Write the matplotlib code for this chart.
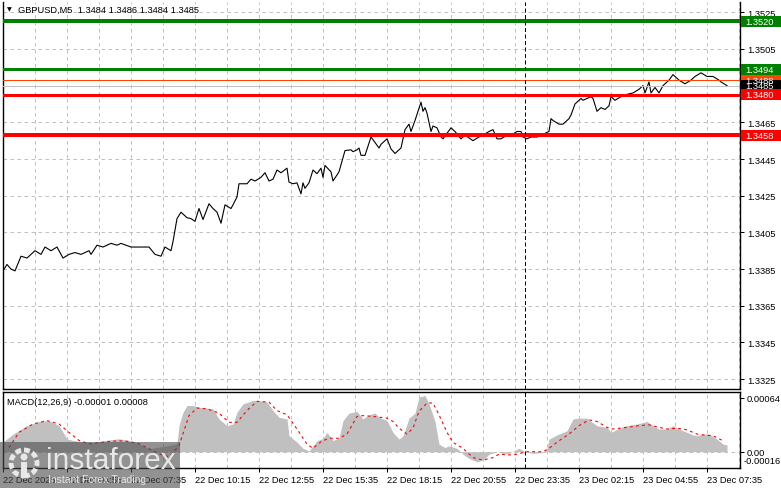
import matplotlib
matplotlib.use('Agg')
import matplotlib.pyplot as plt
from matplotlib.patches import Rectangle, Circle
from matplotlib import transforms

plt.rcParams['font.family'] = ['Liberation Sans', 'DejaVu Sans']

#### data ####
# M5 bar number (0 = first bar on screen) and close
price_bar = [0, 2, 4, 6, 9, 12, 14, 16, 19, 21, 24, 27, 30, 33, 36, 39, 43, 44, 47, 50,
             54, 57, 59, 64, 69, 73, 76, 79, 81, 84, 85, 87, 89, 92, 94, 96, 98, 100, 103, 105,
             107, 109, 111, 114, 115, 117, 118, 122, 124, 126, 129, 131, 133, 135, 137, 139, 142, 143, 145, 147,
             149, 150, 151, 153, 155, 157, 159, 160, 161, 164, 165, 168, 171, 174, 175, 177, 178, 179, 181, 184,
             186, 188, 189, 192, 194, 196, 199, 201, 203, 204, 206, 209, 210, 211, 212, 214, 215, 217, 219, 220,
             224, 226, 229, 231, 235, 238, 240, 243, 245, 247, 249, 252, 254, 257, 259, 260, 262, 264, 267, 271,
             273, 274, 275, 278, 280, 283, 284, 286, 289, 290, 294, 295, 297, 299, 301, 303, 304, 306, 309, 311,
             315, 318, 320, 321, 323, 324, 326, 328, 330, 333, 335, 338, 341, 344, 346, 349, 352, 355, 358, 359,
             362]
price_close = [1.3384, 1.33875, 1.3385, 1.3384, 1.3392, 1.3391, 1.3393, 1.3395, 1.3393, 1.3397,
               1.3395, 1.3397, 1.3391, 1.3393, 1.3394, 1.3393, 1.3395, 1.3393, 1.3398, 1.3397,
               1.3399, 1.3398, 1.3399, 1.3397, 1.3397, 1.3397, 1.3393, 1.3392, 1.3397, 1.3395,
               1.3400, 1.34125, 1.3416, 1.3413, 1.34125, 1.3411, 1.3418, 1.3412, 1.34206, 1.3418,
               1.3416, 1.3410, 1.3420, 1.3418, 1.3420, 1.34243, 1.34315, 1.34315, 1.3434, 1.3433,
               1.3435, 1.34375, 1.3433, 1.3434, 1.3439, 1.34375, 1.3440, 1.34324, 1.34315, 1.3432,
               1.3426, 1.3432, 1.3429, 1.3432, 1.3439, 1.3437, 1.3440, 1.3435, 1.34415, 1.3438,
               1.3433, 1.3438, 1.34496, 1.3450, 1.3449, 1.3450, 1.3451, 1.3447, 1.3447, 1.3457,
               1.3454, 1.3451, 1.3453, 1.3456, 1.34505, 1.3448, 1.3451, 1.3461, 1.3464, 1.3460,
               1.3466, 1.3476, 1.3471, 1.3473, 1.3470, 1.3460, 1.3463, 1.3462, 1.3457, 1.3456,
               1.3462, 1.3460, 1.3456, 1.3458, 1.3455, 1.3457, 1.3458, 1.3460, 1.3461, 1.3456,
               1.3456, 1.3458, 1.3458, 1.3460, 1.3460, 1.3457, 1.3456, 1.3457, 1.3457, 1.3459,
               1.3460, 1.3467, 1.3466, 1.3464, 1.3464, 1.3467, 1.3469, 1.3475, 1.3478, 1.3477,
               1.3479, 1.3478, 1.3471, 1.3473, 1.3472, 1.3474, 1.3479, 1.3477, 1.3479, 1.3480,
               1.3481, 1.3483, 1.3485, 1.3481, 1.3487, 1.3481, 1.3484, 1.3481, 1.3485, 1.3488,
               1.3491, 1.3488, 1.3486, 1.3488, 1.3490, 1.3492, 1.3490, 1.3490, 1.3488, 1.3487,
               1.3485]

macd_bar = [0, 5, 12, 18, 23, 28, 32, 35, 40, 45, 48, 53, 58, 63, 68, 73, 78, 83, 87, 88,
            90, 92, 95, 98, 102, 105, 108, 112, 115, 117, 120, 125, 128, 132, 135, 138, 142, 143, 147, 150,
            153, 157, 160, 162, 165, 168, 170, 173, 177, 180, 183, 186, 188, 192, 195, 198, 200, 203, 206, 208,
            211, 213, 216, 218, 221, 223, 227, 230, 233, 237, 240, 243, 247, 250, 253, 257, 258, 261, 265, 270,
            272, 273, 277, 282, 285, 288, 292, 294, 297, 302, 304, 308, 312, 317, 322, 325, 328, 332, 335, 338,
            342, 345, 347, 350, 353, 357, 360, 362]
macd_main = [0.000115, 0.00021, 0.00031, 0.00036, 0.00037, 0.00031, 0.000154, 0.000134, 0.000115, 0.000107,
             0.000122, 0.00014, 0.000154, 0.000134, 0.000095, 0.000036, 0.000055, 0.000075, 0.000095, 0.00031,
             0.00047, 0.00055, 0.00055, 0.00053, 0.00052, 0.00051, 0.00039, 0.00031, 0.00033, 0.00047,
             0.00057, 0.00061, 0.00061, 0.00059, 0.00049, 0.00041, 0.00039, 0.00019, 0.000115, 0.00004,
             0.00001, 0.00013, 0.00016, 0.00023, 0.000134, 0.00016, 0.00037, 0.00046, 0.00048, 0.00039,
             0.00044, 0.00046, 0.00041, 0.00037, 0.00023, 0.00015, 0.00019, 0.0004, 0.00046, 0.00065,
             0.00067, 0.00057, 0.00036, 0.00009, 0.00005, 0.00007, 0.00004, -0.00003, -0.00008, -0.00012,
             -0.0001, -0.00003, 0.0, -0.00002, -0.00002, 0.00003, 0.00004, 0.0, -0.00002, -0.00001,
             0.00004, 0.00015, 0.0002, 0.00025, 0.00039, 0.0004, 0.0004, 0.00036, 0.00031, 0.00029,
             0.00023, 0.00028, 0.00031, 0.00033, 0.00036, 0.00031, 0.00027, 0.00027, 0.00031, 0.00027,
             0.00023, 0.0002, 0.00019, 0.00021, 0.00021, 0.00015, 0.00009, 0.00008]

signal_bar = [3, 8, 15, 22, 28, 33, 38, 43, 48, 53, 58, 63, 68, 73, 78, 83, 88, 93, 97, 102,
              108, 113, 117, 122, 127, 133, 137, 142, 147, 152, 155, 159, 163, 168, 172, 177, 180, 185, 192, 195,
              198, 202, 205, 208, 212, 215, 218, 222, 225, 230, 235, 240, 245, 248, 255, 262, 270, 273, 278, 283,
              288, 293, 297, 302, 305, 312, 318, 323, 328, 332, 337, 342, 347, 350, 355, 360]
signal_val = [0.00005, 0.00023, 0.00033, 0.00037, 0.00033, 0.00023, 0.000134, 0.000095, 0.000107, 0.000122,
              0.00013, 0.000122, 0.000095, 0.000036, -0.000024, -0.00006, 0.00007, 0.00043, 0.00052, 0.00051,
              0.00046, 0.00035, 0.00035, 0.00049, 0.0006, 0.00059, 0.00049, 0.00044, 0.00027, 0.00009,
              0.00004, 0.00012, 0.00016, 0.00016, 0.00021, 0.00042, 0.00043, 0.00042, 0.0004, 0.00036,
              0.00028, 0.00021, 0.00028, 0.00048, 0.00058, 0.00058, 0.00044, 0.00023, 0.00011, 0.00004,
              -0.00007, -0.0001, -0.00007, -0.00003, -0.00004, 0.0, 0.0, 0.00004, 0.00013, 0.00021,
              0.00031, 0.00038, 0.00036, 0.00029, 0.00027, 0.00029, 0.00031, 0.00032, 0.00029, 0.00027,
              0.00028, 0.00026, 0.00021, 0.0002, 0.00019, 0.00013]

level_price = [1.3520, 1.3494, 1.3488, 1.3485, 1.3480, 1.3458]
level_text = ['1.3520', '1.3494', '1.3488', '1.3485', '1.3480', '1.3458']
level_line_color = ['#008000', '#008000', '#ff4500', '#c0c0c0', '#ff0000', '#ff0000']
level_box_color = ['#008000', '#008000', '#ff4500', '#000000', '#ff0000', '#ff0000']
level_px = [4, 3, 1, 1, 3, 4]

price_ticks = [1.3325, 1.3345, 1.3365, 1.3385, 1.3405, 1.3425, 1.3445, 1.3465, 1.3485, 1.3505, 1.3525]
time_bar = [0, 32, 64, 96, 128, 160, 192, 224, 256, 288, 320, 352]
time_text = ['22 Dec 2025', '22 Dec 04:55', '22 Dec 07:35', '22 Dec 10:15', '22 Dec 12:55',
             '22 Dec 15:35', '22 Dec 18:15', '22 Dec 20:55', '22 Dec 23:35', '23 Dec 02:15',
             '23 Dec 04:55', '23 Dec 07:35']
cursor_bar = 261

#### figure ####
W, H = 781, 489
fig = plt.figure(figsize=(W / 100, H / 100), dpi=100)

def box(x0, y0, x1, y1):
    # pixel box (top-left origin) -> figure fraction rect
    return [x0 / W, 1 - y1 / H, (x1 - x0) / W, (y1 - y0) / H]

ax = fig.add_axes(box(3, 3, 740, 390))
ax2 = fig.add_axes(box(3, 393, 740, 469))

xmin, xmax = 0, 368.5
ymin, ymax = 1.33196, 1.35306
px = 0.72  # one pixel in points

dash_grid = (0, (3.5, 3.5))

# main price panel
ax.plot(price_bar, price_close, color='black', lw=0.8, zorder=3)
for lev, c, w in zip(level_price, level_line_color, level_px):
    ax.axhline(lev, color=c, lw=w * px, zorder=4)
ax.set_xlim(xmin, xmax)
ax.set_ylim(ymin, ymax)
for t in price_ticks:
    ax.axhline(t, color='#c0c0c0', lw=px, ls=dash_grid, zorder=1)
for b in range(16, 369, 16):
    ax.axvline(b, color='#c0c0c0', lw=px, ls=dash_grid, zorder=1)
    ax2.axvline(b, color='#c0c0c0', lw=px, ls=dash_grid, zorder=1)
ax.axvline(cursor_bar, color='black', lw=px, ls=(0, (4, 2.5)), zorder=5)
ax.set_xticks([])
ax.yaxis.tick_right()
ax.set_yticks(price_ticks)
ax.set_yticklabels(['%.4f' % t for t in price_ticks])
ax.tick_params(axis='y', direction='out', length=3, pad=2, labelsize=6.7, width=px)

# coloured price boxes on the right scale
trans = transforms.blended_transform_factory(fig.transFigure, ax.transData)
hh = 11 * (ymax - ymin) / 387
for lev, txt, c in zip(level_price, level_text, level_box_color):
    ax.add_patch(Rectangle((741 / W, lev - hh / 2), 40 / W, hh, transform=trans,
                           facecolor=c, edgecolor='none', clip_on=False, zorder=6))
    ax.text(745 / W, lev, txt, transform=trans, color='white', fontsize=6.7,
            va='center', ha='left', clip_on=False, zorder=7)

fig.text(18 / W, 1 - 10 / H, 'GBPUSD,M5  1.3484 1.3486 1.3484 1.3485', fontsize=6.7, va='center')
fig.text(7 / W, 1 - 10 / H, '\u25bc', fontsize=4.5, va='center', family='DejaVu Sans')

# MACD panel
ax2.fill_between(macd_bar, 0, macd_main, color='#c0c0c0', lw=0, zorder=2)
ax2.plot(signal_bar, signal_val, color='#ff0000', lw=0.8, ls=(0, (2.5, 3)), zorder=3)
ax2.axhline(0, color='#c0c0c0', lw=px, ls=dash_grid, zorder=1)
ax2.axvline(cursor_bar, color='black', lw=px, ls=(0, (4, 2.5)), zorder=5)
ax2.set_xlim(xmin, xmax)
ax2.set_ylim(-0.000194, 0.000711)
ax2.yaxis.tick_right()
ax2.set_yticks([0.00064, 0.0])
ax2.set_yticklabels(['0.00064', '0.00'])
ax2.tick_params(axis='y', direction='out', length=3, pad=2, labelsize=6.7, width=px)
fig.text(744 / W, 1 - 462 / H, '-0.00016', fontsize=6.7, va='center')
ax2.set_xticks(time_bar)
ax2.set_xticklabels(time_text)
for lbl in ax2.get_xticklabels():
    lbl.set_ha('left')
ax2.tick_params(axis='x', direction='out', length=3, pad=2, labelsize=6.7, width=px)
ax2.text(4 / 737, 0.87, 'MACD(12,26,9) -0.00001 0.00008', transform=ax2.transAxes,
         fontsize=6.7, va='center')

for a in (ax, ax2):
    for s in a.spines.values():
        s.set_linewidth(1.0)
        s.set_color('black')
ax.spines['top'].set_visible(False)

# instaforex watermark
fig.add_artist(Rectangle((0, 0), 180 / W, 46 / H, transform=fig.transFigure,
                         facecolor='#4a4a4a', edgecolor='none', alpha=0.6, zorder=10))
fig.add_artist(Circle((24 / 100, (H - 464) / 100), 0.13, transform=fig.dpi_scale_trans,
                      facecolor='none', edgecolor='#e8e8e8', lw=3.5, ls=(0, (1.2, 0.6)), zorder=11))
fig.add_artist(Circle((24 / 100, (H - 458) / 100), 0.035, transform=fig.dpi_scale_trans,
                      facecolor='#e8e8e8', edgecolor='none', zorder=11))
fig.add_artist(Rectangle((21 / 100, (H - 478) / 100), 0.06, 0.15, transform=fig.dpi_scale_trans,
                         facecolor='#e8e8e8', edgecolor='none', zorder=11))
fig.text(46 / W, 1 - 461 / H, 'instaforex', fontsize=21.5, color='#e8e8e8', va='center', zorder=12)
fig.text(48 / W, 1 - 480 / H, 'Instant Forex Trading', fontsize=7.5, color='#e8e8e8', va='center', zorder=12)

plt.savefig('out.png', dpi=100)
